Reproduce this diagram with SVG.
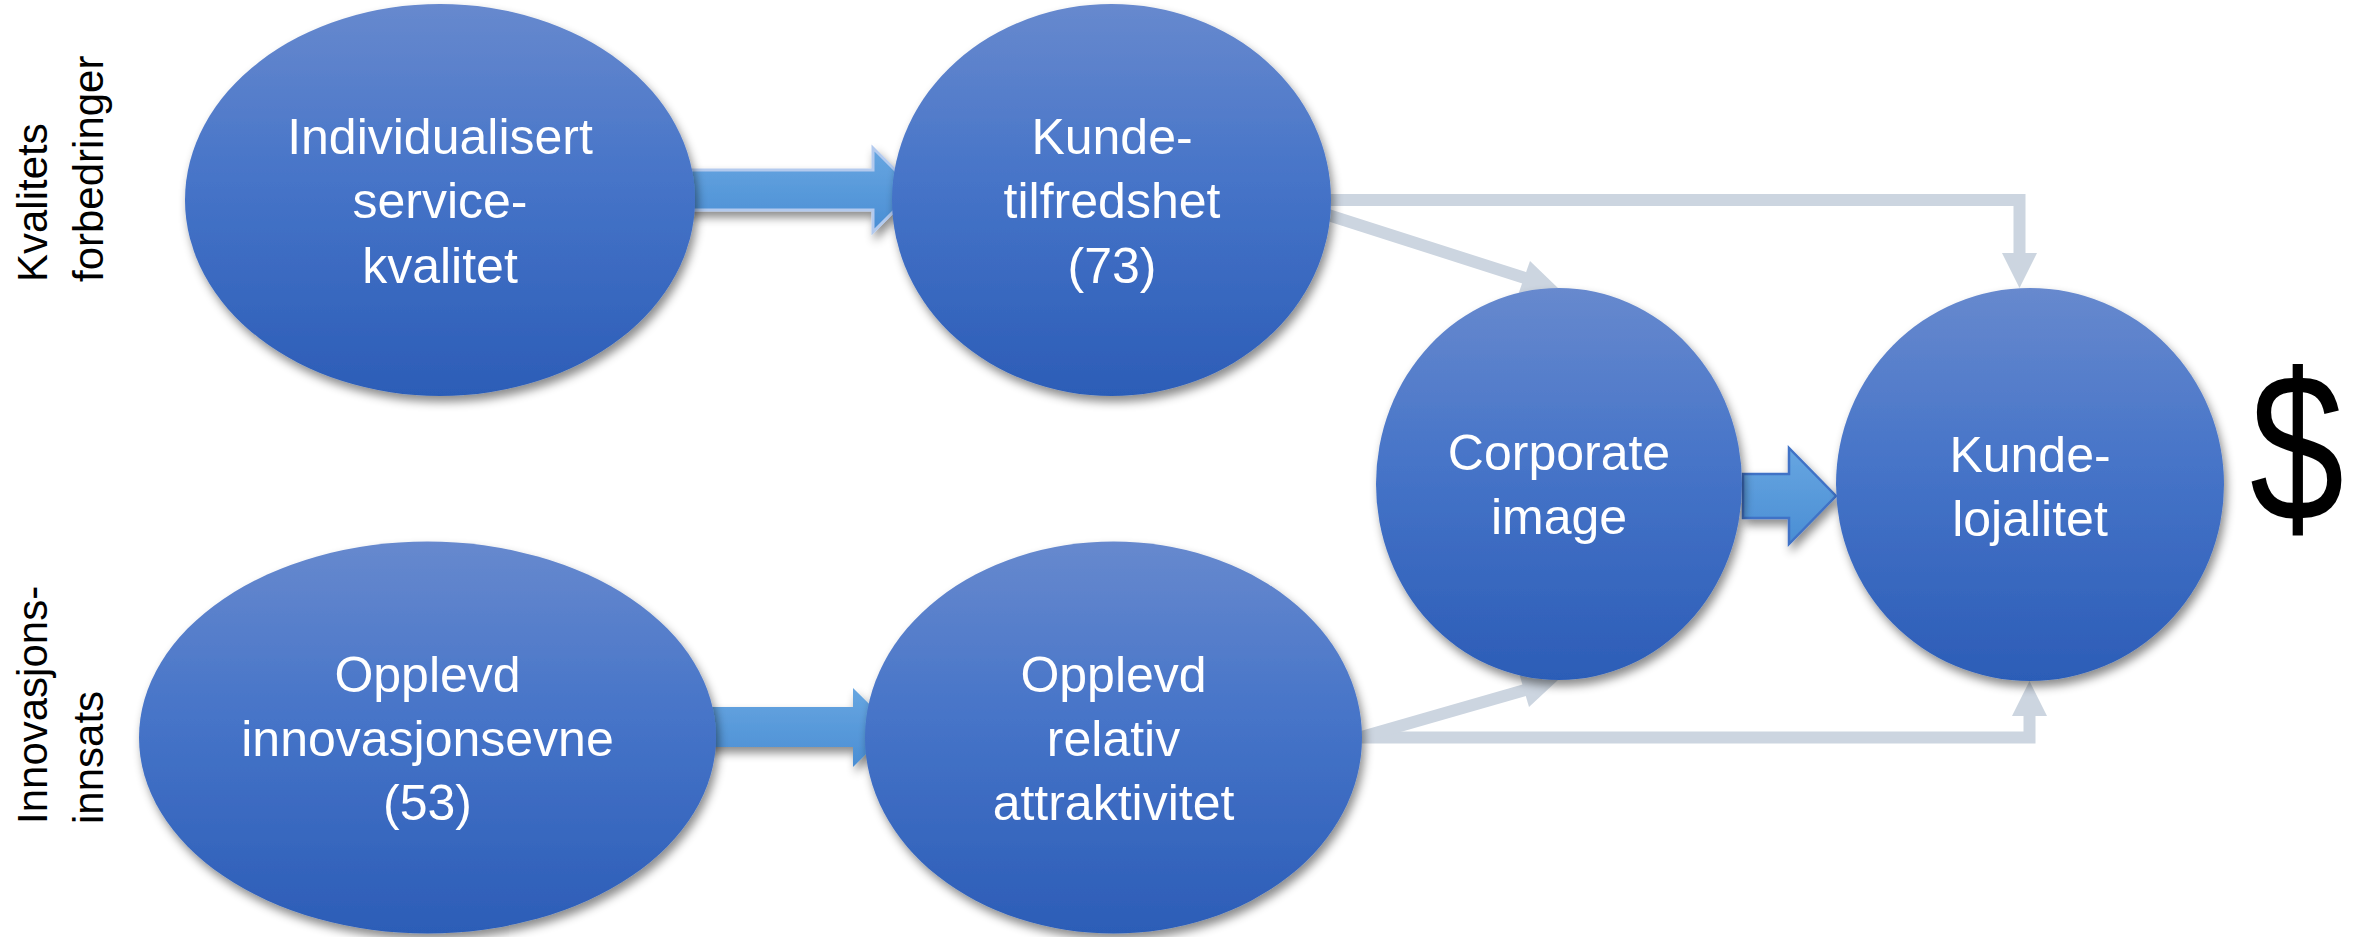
<svg xmlns="http://www.w3.org/2000/svg" width="2356" height="937" viewBox="0 0 2356 937">
  <defs>
    <linearGradient id="gNode" x1="0" y1="0" x2="0" y2="1">
      <stop offset="0" stop-color="#6789ce"/>
      <stop offset="0.45" stop-color="#4674c8"/>
      <stop offset="1" stop-color="#2c5db7"/>
    </linearGradient>
    <linearGradient id="gArrow" x1="0" y1="0" x2="0" y2="1">
      <stop offset="0" stop-color="#67a6e1"/>
      <stop offset="1" stop-color="#4a8ed4"/>
    </linearGradient>
    <filter id="shadow" x="-20%" y="-20%" width="140%" height="140%">
      <feDropShadow dx="3" dy="6" stdDeviation="5" flood-color="#000" flood-opacity="0.45"/>
    </filter>
  </defs>
  <style>
    .node { fill: url(#gNode); filter: url(#shadow); }
    .lbl { font-family: "Liberation Sans", Arial, sans-serif; font-size: 50px; fill: #ffffff; text-anchor: middle; }
    .side { font-family: "Liberation Sans", Arial, sans-serif; font-size: 42px; fill: #000000; }
    .conn { fill: none; stroke: #ccd5e0; stroke-width: 12; stroke-linejoin: miter; }
    .head { fill: #ccd5e0; }
    .block { fill: url(#gArrow); filter: url(#shadow); }
  </style>

  <g id="side-labels">
    <text class="side" transform="translate(47,282) rotate(-90)">Kvalitets</text>
    <text class="side" transform="translate(103,282) rotate(-90)">forbedringer</text>
    <text class="side" transform="translate(47,824) rotate(-90)">Innovasjons-</text>
    <text class="side" transform="translate(103,824) rotate(-90)">innsats</text>
  </g>

  <g id="connectors">
    <path class="conn" d="M1325,200 H2019.5 V254"/>
    <polygon class="head" points="2002,253 2037,253 2019.5,288"/>
    <line class="conn" x1="1325" y1="214" x2="1525" y2="278"/>
    <polygon class="head" points="1530,261 1518,295 1558,288"/>
    <path class="conn" d="M1358,737.5 H2029.5 V715"/>
    <polygon class="head" points="2012,716 2047,716 2029.5,681"/>
    <line class="conn" x1="1358" y1="738" x2="1525" y2="690"/>
    <polygon class="head" points="1519,673 1529,707 1558,680"/>
    <polygon class="block" stroke="#b3caee" stroke-width="3" points="680,170 873,170 873,148 915,190 873,232 873,210 680,210"/>
    <polygon class="block" points="700,707 853,707 853,688 893,727.5 853,767 853,747 700,747"/>
    <polygon class="block" stroke="#3f72c6" stroke-width="2.5" points="1743,474 1789,474 1789,448 1836,496 1789,544 1789,518 1743,518"/>
  </g>

  <g id="node-individualisert">
    <ellipse class="node" cx="440" cy="200" rx="255" ry="196"/>
    <text class="lbl" x="440" y="154">Individualisert</text>
    <text class="lbl" x="440" y="218">service-</text>
    <text class="lbl" x="440" y="283">kvalitet</text>
  </g>

  <g id="node-kundetilfredshet">
    <ellipse class="node" cx="1111.5" cy="200" rx="219.5" ry="196"/>
    <text class="lbl" x="1112" y="154">Kunde-</text>
    <text class="lbl" x="1112" y="218">tilfredshet</text>
    <text class="lbl" x="1112" y="283">(73)</text>
  </g>

  <g id="node-corporate">
    <ellipse class="node" cx="1559" cy="484" rx="183" ry="196"/>
    <text class="lbl" x="1559" y="470">Corporate</text>
    <text class="lbl" x="1559" y="534">image</text>
  </g>

  <g id="node-kundelojalitet">
    <ellipse class="node" cx="2030" cy="484.5" rx="194" ry="196.5"/>
    <text class="lbl" x="2030" y="472">Kunde-</text>
    <text class="lbl" x="2030" y="536">lojalitet</text>
  </g>

  <g id="node-innovasjonsevne">
    <ellipse class="node" cx="427.5" cy="737.5" rx="288.5" ry="196"/>
    <text class="lbl" x="427.5" y="692">Opplevd</text>
    <text class="lbl" x="427.5" y="756">innovasjonsevne</text>
    <text class="lbl" x="427.5" y="820">(53)</text>
  </g>

  <g id="node-attraktivitet">
    <ellipse class="node" cx="1113.5" cy="737.5" rx="248.5" ry="196"/>
    <text class="lbl" x="1113.5" y="692">Opplevd</text>
    <text class="lbl" x="1113.5" y="756">relativ</text>
    <text class="lbl" x="1113.5" y="820">attraktivitet</text>
  </g>

  <g id="dollar">
    <text transform="translate(2297,521) scale(0.8,1)" font-family="Liberation Sans, Arial, sans-serif" font-size="212" text-anchor="middle" fill="#000000">$</text>
  </g>
</svg>
